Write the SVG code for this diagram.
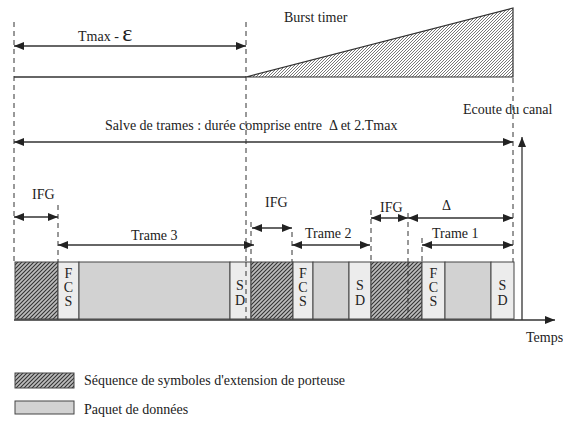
<svg xmlns="http://www.w3.org/2000/svg" width="563" height="422" viewBox="0 0 563 422" font-family="'Liberation Serif', 'DejaVu Serif', serif">
<defs>
<style>
text{font-family:'Liberation Serif','DejaVu Serif',serif;font-size:14px;fill:#222}
.ln{stroke:#333;stroke-width:1.3;fill:none}
.dash{stroke:#333;stroke-width:1;stroke-dasharray:5,4;fill:none}
.arr{stroke:#333;stroke-width:1.3;fill:none;marker-start:url(#a);marker-end:url(#a)}
.hatch{fill:url(#h);stroke:#444;stroke-width:1}
.light{fill:#ececec;stroke:#444;stroke-width:1}
.gray{fill:#d2d2d2;stroke:#444;stroke-width:1}
.c{text-anchor:middle}
</style>
<pattern id="h" width="4" height="4" patternUnits="userSpaceOnUse">
<rect width="4" height="4" fill="#bdbdbd"/>
<path d="M-1,5 L5,-1 M-1,1 L1,-1 M3,5 L5,3" stroke="#333" stroke-width="1.1"/>
</pattern>
<pattern id="h2" width="3" height="3" patternUnits="userSpaceOnUse">
<rect width="3" height="3" fill="#fff"/>
<path d="M-1,4 L4,-1" stroke="#555" stroke-width="0.8"/>
</pattern>
<marker id="a" viewBox="0 0 10 8" refX="10" refY="4" markerWidth="10" markerHeight="8" markerUnits="userSpaceOnUse" orient="auto-start-reverse">
<path d="M0,0 L10,4 L0,8 Z" fill="#222"/>
</marker>
</defs>

<g id="guides">
<line class="dash" x1="14" y1="22" x2="14" y2="262"/>
<line class="dash" x1="246" y1="22" x2="246" y2="319"/>
<line class="dash" x1="513" y1="78" x2="513" y2="262"/>
<line class="dash" x1="58" y1="205" x2="58" y2="262"/>
<line class="dash" x1="251" y1="222" x2="251" y2="319"/>
<line class="dash" x1="292" y1="232" x2="292" y2="262"/>
<line class="dash" x1="371" y1="210" x2="371" y2="262"/>
<line class="dash" x1="408" y1="213" x2="408" y2="319"/>
<line class="dash" x1="422" y1="238" x2="422" y2="262"/>
</g>

<g id="burst-timer">
<line class="ln" x1="14" y1="77" x2="246" y2="77"/>
<path d="M246,77 L513,77 L513,8 Z" fill="url(#h2)" stroke="#333" stroke-width="1.2"/>
<text x="284" y="22">Burst timer</text>
</g>

<g id="blocks">
<rect class="hatch" x="15" y="262" width="43" height="57"/>
<rect class="light" x="58" y="262" width="21" height="57"/>
<rect class="gray" x="79" y="262" width="151" height="57"/>
<rect class="light" x="230" y="262" width="21" height="57"/>
<rect class="hatch" x="251" y="262" width="42" height="57"/>
<rect class="light" x="293" y="262" width="20" height="57"/>
<rect class="gray" x="313" y="262" width="36" height="57"/>
<rect class="light" x="349" y="262" width="22" height="57"/>
<rect class="hatch" x="371" y="262" width="51" height="57"/>
<rect class="light" x="422" y="262" width="23" height="57"/>
<rect class="gray" x="445" y="262" width="46" height="57"/>
<rect class="light" x="491" y="262" width="23" height="57"/>
<line class="dash" x1="246" y1="262" x2="246" y2="319"/>
<line class="dash" x1="408" y1="262" x2="408" y2="319"/>
<text class="c" x="68.5" y="278">F</text><text class="c" x="68.5" y="292">C</text><text class="c" x="68.5" y="306">S</text>
<text class="c" x="240" y="290">S</text><text class="c" x="240" y="305">D</text>
<text class="c" x="303" y="278">F</text><text class="c" x="303" y="292">C</text><text class="c" x="303" y="306">S</text>
<text class="c" x="360" y="290">S</text><text class="c" x="360" y="305">D</text>
<text class="c" x="433.5" y="278">F</text><text class="c" x="433.5" y="292">C</text><text class="c" x="433.5" y="306">S</text>
<text class="c" x="502.5" y="290">S</text><text class="c" x="502.5" y="305">D</text>
</g>

<g id="connectors">
<line class="arr" x1="14" y1="46" x2="246" y2="46"/>
<line class="arr" x1="14" y1="142" x2="513" y2="142"/>
<line class="arr" x1="14" y1="217" x2="58" y2="217"/>
<line class="arr" x1="58" y1="245" x2="254" y2="245"/>
<line class="arr" x1="252" y1="228" x2="292" y2="228"/>
<line class="arr" x1="292" y1="245" x2="370" y2="245"/>
<line class="arr" x1="371" y1="218" x2="408" y2="218"/>
<line class="arr" x1="408" y1="218" x2="513" y2="218"/>
<line class="arr" x1="422" y1="245" x2="513" y2="245"/>
<line class="ln" x1="14" y1="320" x2="555" y2="320" marker-end="url(#a)"/>
<line class="ln" x1="522" y1="320" x2="522" y2="137" marker-end="url(#a)"/>
</g>

<g id="labels">
<text x="78" y="41">Tmax - <tspan font-size="24">ε</tspan></text>
<text x="105" y="130" xml:space="preserve">Salve de trames : durée comprise entre  Δ et 2.Tmax</text>
<text x="463" y="114">Ecoute du canal</text>
<text x="32" y="199">IFG</text>
<text x="265" y="207">IFG</text>
<text x="380" y="212">IFG</text>
<text x="442" y="210" font-size="17">Δ</text>
<text x="131" y="240">Trame 3</text>
<text x="305" y="238">Trame 2</text>
<text x="432" y="238">Trame 1</text>
<text x="526" y="342" font-size="13">Temps</text>
</g>

<g id="legend">
<rect class="hatch" x="15" y="373" width="59" height="15"/>
<text x="84" y="385">Séquence de symboles d'extension de porteuse</text>
<rect class="gray" x="15" y="401" width="59" height="13"/>
<text x="84" y="414">Paquet de données</text>
</g>
</svg>
